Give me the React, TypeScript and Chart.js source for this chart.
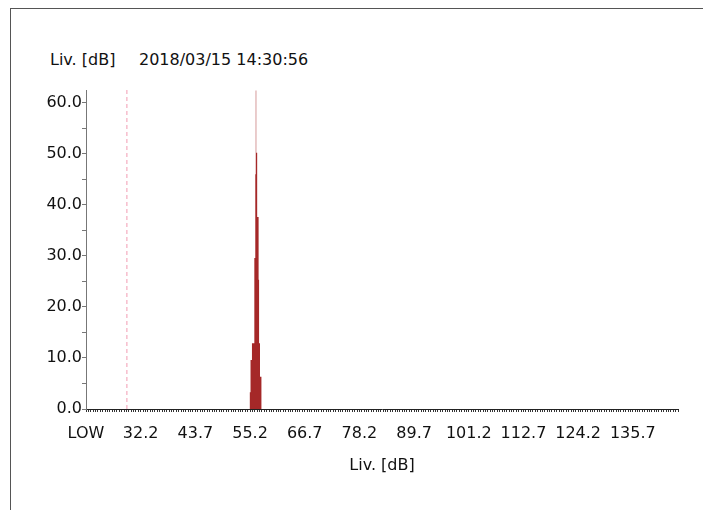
import React, { useEffect, useRef } from 'react';
import { Chart, registerables } from 'chart.js';

Chart.register(...registerables);

// ---- data ----
const titleLabel = 'Liv. [dB]';
const titleDate = '2018/03/15 14:30:56';
const xAxisTitle = 'Liv. [dB]';

// histogram bins (dB) and their values
const levelBins = [
  55.1, 55.2, 55.3, 55.4, 55.5, 55.6, 55.7, 55.8, 55.9, 56.0, 56.1, 56.2, 56.3, 56.4,
  56.5, 56.6, 56.7, 56.8, 56.9, 57.0, 57.1, 57.2, 57.3, 57.4, 57.5, 57.6, 57.7,
];
const binValues = [
  3.3, 3.3, 3.3, 9.6, 9.6, 9.6, 12.9, 12.9, 12.9, 12.9, 12.9, 29.6, 29.6, 46.0,
  62.4, 50.2, 50.2, 37.6, 37.6, 37.6, 25.3, 12.9, 12.9, 6.3, 6.3, 6.3, 0,
];

// dashed marker level (dB)
const markerLevel = [29.3];

const xLabelValues = [20.7, 32.2, 43.7, 55.2, 66.7, 78.2, 89.7, 101.2, 112.7, 124.2, 135.7];
const xLabelTexts = ['LOW', '32.2', '43.7', '55.2', '66.7', '78.2', '89.7', '101.2', '112.7', '124.2', '135.7'];
const yTickValues = [0, 5, 10, 15, 20, 25, 30, 35, 40, 45, 50, 55, 60];
const yLabelValues = [0, 10, 20, 30, 40, 50, 60];

const X_MIN = 20.7;
const X_MAX = 145.2;
const X_MINOR_STEP = 0.5;
const Y_MIN = 0;
const Y_MAX = 62.5;

const FONT = 'DejaVu Sans';
const TEXT = '#111';
const BAR = '#a52828';

export default function App() {
  const ref = useRef<HTMLCanvasElement | null>(null);

  useEffect(() => {
    if (!ref.current) return;
    const minorTicks: number[] = [];
    const n = Math.round((X_MAX - X_MIN) / X_MINOR_STEP);
    for (let i = 0; i <= n; i++) minorTicks.push(Math.round((X_MIN + X_MINOR_STEP * i) * 10) / 10);

    const chart = new Chart(ref.current, {
      type: 'line',
      data: {
        datasets: [
          {
            data: levelBins.map((x, i) => ({ x, y: binValues[i] })),
            stepped: 'after',
            fill: 'origin',
            backgroundColor: BAR,
            borderColor: 'rgba(0,0,0,0)',
            borderWidth: 1,
            pointRadius: 0,
          },
          {
            data: [
              { x: markerLevel[0], y: Y_MIN },
              { x: markerLevel[0], y: Y_MAX },
            ],
            borderColor: '#f29bb2',
            borderWidth: 1,
            borderDash: [4, 3],
            fill: false,
            pointRadius: 0,
          },
        ],
      },
      options: {
        animation: false,
        responsive: false,
        maintainAspectRatio: false,
        layout: { padding: { top: 90, right: 25, left: 0, bottom: 0 } },
        plugins: { legend: { display: false }, tooltip: { enabled: false }, title: { display: false } },
        scales: {
          x: {
            type: 'linear',
            min: X_MIN,
            max: X_MAX,
            afterBuildTicks: (s: any) => {
              s.ticks = minorTicks.map((v) => ({ value: v }));
            },
            afterFit: (s: any) => {
              s.height = 101;
            },
            ticks: {
              autoSkip: false,
              maxRotation: 0,
              minRotation: 0,
              padding: 12,
              color: TEXT,
              font: { family: FONT, size: 16 },
              callback: (v: any) => {
                const idx = xLabelValues.findIndex((lv) => Math.abs(lv - Number(v)) < 0.01);
                return idx >= 0 ? xLabelTexts[idx] : '';
              },
            },
            grid: { display: true, drawOnChartArea: false, drawTicks: true, tickLength: 3, color: '#333' },
            border: { display: true, color: '#222', width: 1 },
            title: {
              display: true,
              text: xAxisTitle,
              color: TEXT,
              font: { family: FONT, size: 16 },
              padding: { top: 0, bottom: 35 },
            },
          },
          y: {
            type: 'linear',
            min: Y_MIN,
            max: Y_MAX,
            afterBuildTicks: (s: any) => {
              s.ticks = yTickValues.map((v) => ({ value: v }));
            },
            afterFit: (s: any) => {
              s.width = 86;
            },
            ticks: {
              padding: 0,
              color: TEXT,
              font: { family: FONT, size: 16 },
              callback: (v: any) => (yLabelValues.includes(Number(v)) ? Number(v).toFixed(1) : ''),
            },
            grid: { display: true, drawOnChartArea: false, drawTicks: true, tickLength: 4, color: '#777' },
            border: { display: true, color: '#777', width: 1 },
          },
        },
      },
    });
    return () => chart.destroy();
  }, []);

  return (
    <div style={{ position: 'fixed', left: 0, top: 0, width: 703, height: 510, background: '#fff', overflow: 'hidden' }}>
      <div style={{ position: 'absolute', left: 10, top: 8, right: 0, height: 1, background: '#555' }} />
      <div style={{ position: 'absolute', left: 10, top: 8, bottom: 0, width: 1, background: '#555' }} />
      <div
        style={{
          position: 'absolute',
          left: 50,
          top: 50,
          fontFamily: FONT,
          fontSize: 16,
          lineHeight: '20px',
          color: TEXT,
          whiteSpace: 'pre',
        }}
      >
        <span>{titleLabel}</span>
        <span style={{ position: 'absolute', left: 89 }}>{titleDate}</span>
      </div>
      <canvas ref={ref} width={703} height={510} style={{ position: 'absolute', left: 0, top: 0 }} />
    </div>
  );
}
